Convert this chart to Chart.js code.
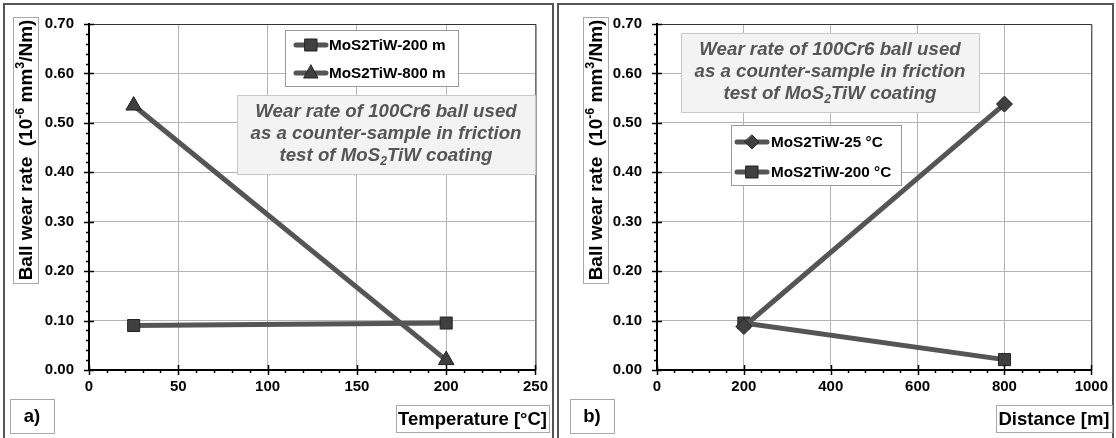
<!DOCTYPE html>
<html>
<head>
<meta charset="utf-8">
<script src="https://cdn.jsdelivr.net/npm/chart.js@4"></script>
<style>
  html, body { margin: 0; padding: 0; background: #fff; }
  #wrap { position: relative; width: 1116px; height: 438px; overflow: hidden; }
  canvas { position: absolute; top: 0; }
  #ca { left: 0; }
  #cb { left: 556px; }
</style>
</head>
<body>
<div id="wrap">
  <canvas id="ca" width="556" height="438"></canvas>
  <canvas id="cb" width="560" height="438"></canvas>
</div>
<script>
// ---- Data ----
const temperatures = [25, 200];                 // °C
const wear200m = [0.090, 0.095];                // MoS2TiW-200 m
const wear800m = [0.535, 0.020];                // MoS2TiW-800 m
const distances = [200, 800];                   // m
const wear25C = [0.088, 0.538];                 // MoS2TiW-25 °C
const wear200C = [0.095, 0.021];                // MoS2TiW-200 °C
const labelsA = ['MoS2TiW-200 m', 'MoS2TiW-800 m'];
const labelsB = ['MoS2TiW-25 °C', 'MoS2TiW-200 °C'];
const yRange = [0, 0.7, 0.1, 0.02];             // min, max, major step, minor step
const xRangeA = [0, 250, 50, 10];
const xRangeB = [0, 1000, 200, 40];

const FONT = '"Liberation Sans", Arial, sans-serif';
const LINE = '#555555';
const MARK = '#404040';

function pts(xs, ys) { return xs.map((x, i) => ({ x: x, y: ys[i] })); }

function drawRich(ctx, segs, x, y, size, opts) {
  opts = opts || {};
  const weight = opts.weight || 'bold';
  const style = opts.italic ? 'italic ' : '';
  const w = segs.map(s => {
    ctx.font = style + weight + ' ' + (s.sub || s.sup ? size * 0.65 : size) + 'px ' + FONT;
    return ctx.measureText(s.t).width;
  });
  const total = w.reduce((a, b) => a + b, 0);
  let cx = opts.align === 'left' ? x : x - total / 2;
  ctx.textBaseline = 'middle';
  ctx.textAlign = 'left';
  segs.forEach((s, i) => {
    const sz = s.sub || s.sup ? size * 0.65 : size;
    ctx.font = style + weight + ' ' + sz + 'px ' + FONT;
    const dy = s.sup ? -size * 0.32 : (s.sub ? size * 0.28 : 0);
    ctx.fillText(s.t, cx, y + dy);
    cx += w[i];
  });
  return total;
}

function drawMarker(ctx, style, x, y) {
  ctx.save();
  ctx.fillStyle = MARK;
  ctx.strokeStyle = '#222';
  ctx.lineWidth = 1;
  ctx.beginPath();
  if (style === 'rect') {
    ctx.rect(x - 6, y - 6, 12, 12);
  } else if (style === 'triangle') {
    ctx.moveTo(x, y - 8); ctx.lineTo(x + 7, y + 5); ctx.lineTo(x - 7, y + 5); ctx.closePath();
  } else {
    ctx.moveTo(x, y - 7); ctx.lineTo(x + 7, y); ctx.lineTo(x, y + 7); ctx.lineTo(x - 7, y); ctx.closePath();
  }
  ctx.fill(); ctx.stroke();
  ctx.restore();
}

function makePlugin(cfg) {
  return {
    id: 'deco' + cfg.id,
    beforeDatasetsDraw(chart) {
      const ctx = chart.ctx, ca = chart.chartArea;
      ctx.save();
      // plot border top/right
      ctx.strokeStyle = '#333'; ctx.lineWidth = 1;
      ctx.beginPath();
      ctx.moveTo(ca.left, ca.top + 0.5); ctx.lineTo(ca.right + 0.5, ca.top + 0.5); ctx.lineTo(ca.right + 0.5, ca.bottom);
      ctx.stroke();
      // annotation box
      const an = cfg.note;
      ctx.fillStyle = '#f3f3f3'; ctx.strokeStyle = '#c8c8c8'; ctx.lineWidth = 1;
      ctx.fillRect(an.x0, an.y0, an.x1 - an.x0, an.y1 - an.y0);
      ctx.strokeRect(an.x0 + 0.5, an.y0 + 0.5, an.x1 - an.x0, an.y1 - an.y0);
      ctx.fillStyle = '#555';
      const cx = (an.x0 + an.x1) / 2;
      drawRich(ctx, [{ t: 'Wear rate of 100Cr6 ball used' }], cx, an.l[0], 18.7, { italic: true });
      drawRich(ctx, [{ t: 'as a counter-sample in friction' }], cx, an.l[1], 18.7, { italic: true });
      drawRich(ctx, [{ t: 'test of MoS' }, { t: '2', sub: true }, { t: 'TiW coating' }], cx, an.l[2], 18.7, { italic: true });
      ctx.restore();
    },
    afterDraw(chart) {
      const ctx = chart.ctx, ca = chart.chartArea;
      const xs = chart.scales.x, ys = chart.scales.y;
      ctx.save();
      ctx.strokeStyle = '#000'; ctx.lineWidth = 1.5;
      // y ticks
      for (let v = yRange[0]; v <= yRange[1] + 1e-9; v += yRange[3]) {
        const py = Math.round(ys.getPixelForValue(v)) + 0.5;
        const major = Math.abs(Math.round(v / yRange[2]) * yRange[2] - v) < 1e-6;
        ctx.beginPath();
        ctx.moveTo(ca.left - (major ? 5 : 3), py);
        ctx.lineTo(ca.left + (major ? 5 : 0), py);
        ctx.stroke();
      }
      const xr = cfg.xr;
      for (let v = xr[0]; v <= xr[1] + 1e-9; v += xr[3]) {
        const px = Math.round(xs.getPixelForValue(v)) + 0.5;
        const major = Math.abs(Math.round(v / xr[2]) * xr[2] - v) < 1e-6;
        ctx.beginPath();
        ctx.moveTo(px, ca.bottom - (major ? 5 : 0));
        ctx.lineTo(px, ca.bottom + (major ? 5 : 3));
        ctx.stroke();
      }
      // frame
      const f = cfg.frame;
      ctx.strokeStyle = '#555'; ctx.lineWidth = 2;
      ctx.beginPath();
      ctx.moveTo(f.x0, 440); ctx.lineTo(f.x0, f.y0); ctx.lineTo(f.x1, f.y0); ctx.lineTo(f.x1, 440);
      ctx.stroke();
      // y title
      ctx.lineWidth = 1; ctx.strokeStyle = '#a8a8a8';
      const yt = cfg.yTitle;
      ctx.strokeRect(yt.x0 + 0.5, yt.y0 + 0.5, yt.x1 - yt.x0, yt.y1 - yt.y0);
      ctx.save();
      ctx.translate((yt.x0 + yt.x1) / 2 + 1, (yt.y0 + yt.y1) / 2);
      ctx.rotate(-Math.PI / 2);
      ctx.fillStyle = '#000';
      drawRich(ctx, [{ t: 'Ball wear rate  (10' }, { t: '-6', sup: true }, { t: ' mm' }, { t: '3', sup: true }, { t: '/Nm)' }], 0, 0, 19);
      ctx.restore();
      // x title
      const xt = cfg.xTitle;
      ctx.strokeRect(xt.x0 + 0.5, xt.y0 + 0.5, xt.x1 - xt.x0, xt.y1 - xt.y0);
      ctx.fillStyle = '#000';
      drawRich(ctx, [{ t: xt.text }], (xt.x0 + xt.x1) / 2, (xt.y0 + xt.y1) / 2 + 1, 18.5);
      // panel label
      const pl = cfg.panel;
      ctx.strokeRect(pl.x0 + 0.5, pl.y0 + 0.5, pl.x1 - pl.x0, pl.y1 - pl.y0);
      drawRich(ctx, [{ t: pl.text }], (pl.x0 + pl.x1) / 2, (pl.y0 + pl.y1) / 2 + 1, 18.5);
      // legend
      const lg = cfg.legend;
      ctx.fillStyle = '#fff'; ctx.strokeStyle = '#999';
      ctx.fillRect(lg.x0, lg.y0, lg.x1 - lg.x0, lg.y1 - lg.y0);
      ctx.strokeRect(lg.x0 + 0.5, lg.y0 + 0.5, lg.x1 - lg.x0, lg.y1 - lg.y0);
      chart.data.datasets.forEach((ds, i) => {
        const ry = lg.rows[i];
        ctx.strokeStyle = LINE; ctx.lineWidth = 5; ctx.lineCap = 'round';
        ctx.beginPath(); ctx.moveTo(lg.sx0, ry); ctx.lineTo(lg.sx1, ry); ctx.stroke();
        drawMarker(ctx, ds.pointStyle, (lg.sx0 + lg.sx1) / 2, ry);
        ctx.fillStyle = '#000';
        drawRich(ctx, [{ t: ds.label }], lg.tx, ry + 1, 15.3, { align: 'left' });
      });
      ctx.restore();
    }
  };
}

function buildChart(id, xr, yw, rightPad, series, plugCfg) {
  const datasets = series.map(s => ({
    label: s.label,
    data: s.data,
    borderColor: LINE,
    borderWidth: 5,
    pointStyle: s.style,
    pointRadius: s.r,
    pointBackgroundColor: MARK,
    pointBorderColor: '#222',
    pointBorderWidth: 1,
    showLine: true,
    tension: 0
  }));
  return new Chart(document.getElementById(id), {
    type: 'scatter',
    data: { datasets: datasets },
    options: {
      responsive: false,
      animation: false,
      devicePixelRatio: 1,
      layout: { padding: { left: 0, right: rightPad, top: 20, bottom: 0 } },
      plugins: { legend: { display: false }, tooltip: { enabled: false } },
      scales: {
        x: {
          type: 'linear', min: xr[0], max: xr[1],
          afterFit(s) { s.height = 68; },
          ticks: { stepSize: xr[2], padding: 8, color: '#000', font: { family: FONT, size: 15, weight: 'bold' },
                   callback: v => String(v) },
          grid: { color: '#b4b4b4', lineWidth: 1, drawTicks: false },
          border: { color: '#000', width: 2 }
        },
        y: {
          type: 'linear', min: yRange[0], max: yRange[1],
          afterFit(s) { s.width = yw; },
          ticks: { stepSize: yRange[2], padding: 15, color: '#000', font: { family: FONT, size: 15, weight: 'bold' },
                   callback: v => Number(v).toFixed(2) },
          grid: { color: '#b4b4b4', lineWidth: 1, drawTicks: false },
          border: { color: '#000', width: 2 }
        }
      }
    },
    plugins: [makePlugin(plugCfg)]
  });
}

buildChart('ca', xRangeA, 89, 14, [
  { label: labelsA[0], data: pts(temperatures, wear200m), style: 'rect', r: 8.5 },
  { label: labelsA[1], data: pts(temperatures, wear800m), style: 'triangle', r: 9 }
], {
  id: 'a', xr: xRangeA,
  frame: { x0: 4, y0: 4, x1: 553 },
  note: { x0: 237, y0: 95, x1: 535, y1: 174, l: [112, 134, 156] },
  legend: { x0: 285, y0: 30, x1: 458, y1: 86, rows: [45, 73], sx0: 296, sx1: 326, tx: 329 },
  yTitle: { x0: 13, y0: 17, x1: 38, y1: 283 },
  xTitle: { x0: 396, y0: 405, x1: 549, y1: 432, text: 'Temperature [°C]' },
  panel: { x0: 10, y0: 399, x1: 54, y1: 433, text: 'a)' }
});

buildChart('cb', xRangeB, 101, 16, [
  { label: labelsB[0], data: pts(distances, wear25C), style: 'rectRot', r: 8 },
  { label: labelsB[1], data: pts(distances, wear200C), style: 'rect', r: 8.5 }
], {
  id: 'b', xr: xRangeB,
  frame: { x0: 2, y0: 4, x1: 557 },
  note: { x0: 125, y0: 33, x1: 423, y1: 112, l: [50, 72, 94] },
  legend: { x0: 175, y0: 125, x1: 345, y1: 185, rows: [142, 172], sx0: 181, sx1: 211, tx: 215 },
  yTitle: { x0: 27, y0: 17, x1: 52, y1: 283 },
  xTitle: { x0: 440, y0: 405, x1: 556, y1: 432, text: 'Distance [m]' },
  panel: { x0: 14, y0: 399, x1: 58, y1: 433, text: 'b)' }
});
</script>
</body>
</html>
